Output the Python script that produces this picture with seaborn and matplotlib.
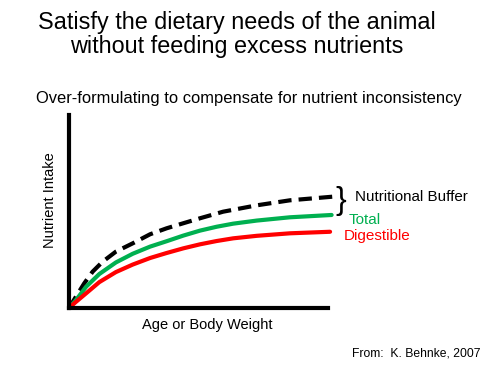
import matplotlib
matplotlib.use("Agg")
import matplotlib.pyplot as plt
import seaborn as sns

# curve values (x: 0-100 age/weight, y: 0-100 intake)
buffer_x = [0, 2.7, 5.9, 9.1, 13.0, 18.1, 24.6, 31.3, 37.7, 44.1, 50.6, 59.5, 72.5, 85.3, 102.0]
buffer_y = [0, 5.9, 12.8, 18.8, 24.0, 29.2, 33.5, 38.2, 41.3, 43.9, 46.5, 49.9, 53.2, 55.8, 57.7]

total_x = [0, 2.7, 6.6, 11.7, 18.1, 24.6, 31.3, 37.7, 44.1, 50.6, 57.0, 63.4, 72.5, 85.3, 101.4]
total_y = [0, 4.1, 11.0, 17.6, 23.6, 28.1, 31.8, 34.6, 37.5, 40.1, 42.1, 43.7, 45.3, 47.0, 48.2]

dig_x = [0, 2.7, 6.6, 11.7, 18.1, 24.6, 31.3, 37.7, 44.1, 50.6, 57.0, 63.4, 72.5, 85.3, 100.8]
dig_y = [0, 3.2, 7.6, 13.4, 18.6, 22.5, 25.9, 28.5, 30.9, 33.0, 34.7, 36.1, 37.4, 38.7, 39.5]

GREEN = "#00B050"
RED = "#FF0000"

sns.set_style("white")
plt.rcParams["font.family"] = ["Liberation Sans", "DejaVu Sans"]
plt.rcParams["text.color"] = "black"
plt.rcParams["axes.labelcolor"] = "black"

W, H = 497, 371
fig = plt.figure(figsize=(W / 100, H / 100), dpi=100)
ax = fig.add_axes([69 / W, 1 - 308 / H, (328 - 69) / W, (308 - 115) / H])

sns.lineplot(x=buffer_x, y=buffer_y, ax=ax, color="black", lw=3,
             linestyle=(0, (3.2, 1.7)), clip_on=False, sort=False)
sns.lineplot(x=total_x, y=total_y, ax=ax, color=GREEN, lw=3,
             clip_on=False, sort=False, solid_capstyle="round",
             solid_joinstyle="round")
sns.lineplot(x=dig_x, y=dig_y, ax=ax, color=RED, lw=3,
             clip_on=False, sort=False, solid_capstyle="round",
             solid_joinstyle="round")

ax.set_xlim(0, 100)
ax.set_ylim(0, 100)
ax.set_xticks([])
ax.set_yticks([])
for side in ["top", "right"]:
    ax.spines[side].set_visible(False)
for side in ["left", "bottom"]:
    ax.spines[side].set_linewidth(3)
    ax.spines[side].set_color("black")
    ax.spines[side].set_capstyle("projecting")

ax.set_xlabel("Age or Body Weight", fontsize=10.5)
ax.set_ylabel("Nutrient Intake", fontsize=10.5)
ax.xaxis.set_label_coords(0.533, -0.088)
ax.yaxis.set_label_coords(-0.073, 0.56)
ax.xaxis.label.set_va("center")
ax.yaxis.label.set_va("center")


def fx(px):
    return px / W


def fy(py):
    return 1 - py / H


fig.text(fx(237), fy(22), "Satisfy the dietary needs of the animal",
         fontsize=16.8, ha="center", va="center")
fig.text(fx(237), fy(47), "without feeding excess nutrients",
         fontsize=16.8, ha="center", va="center")
fig.text(fx(249), fy(99), "Over-formulating to compensate for nutrient inconsistency",
         fontsize=11.9, ha="center", va="center")

fig.text(fx(335), fy(201), "}", fontsize=23,
         ha="left", va="center")
fig.text(fx(355), fy(197), "Nutritional Buffer", fontsize=10.9,
         ha="left", va="center")
fig.text(fx(349), fy(220), "Total", fontsize=11, color=GREEN,
         ha="left", va="center")
fig.text(fx(344), fy(236), "Digestible", fontsize=11, color=RED,
         ha="left", va="center")

fig.text(fx(480), fy(354), "From:  K. Behnke, 2007", fontsize=8.7,
         ha="right", va="center")

fig.savefig("out.png", dpi=100)
